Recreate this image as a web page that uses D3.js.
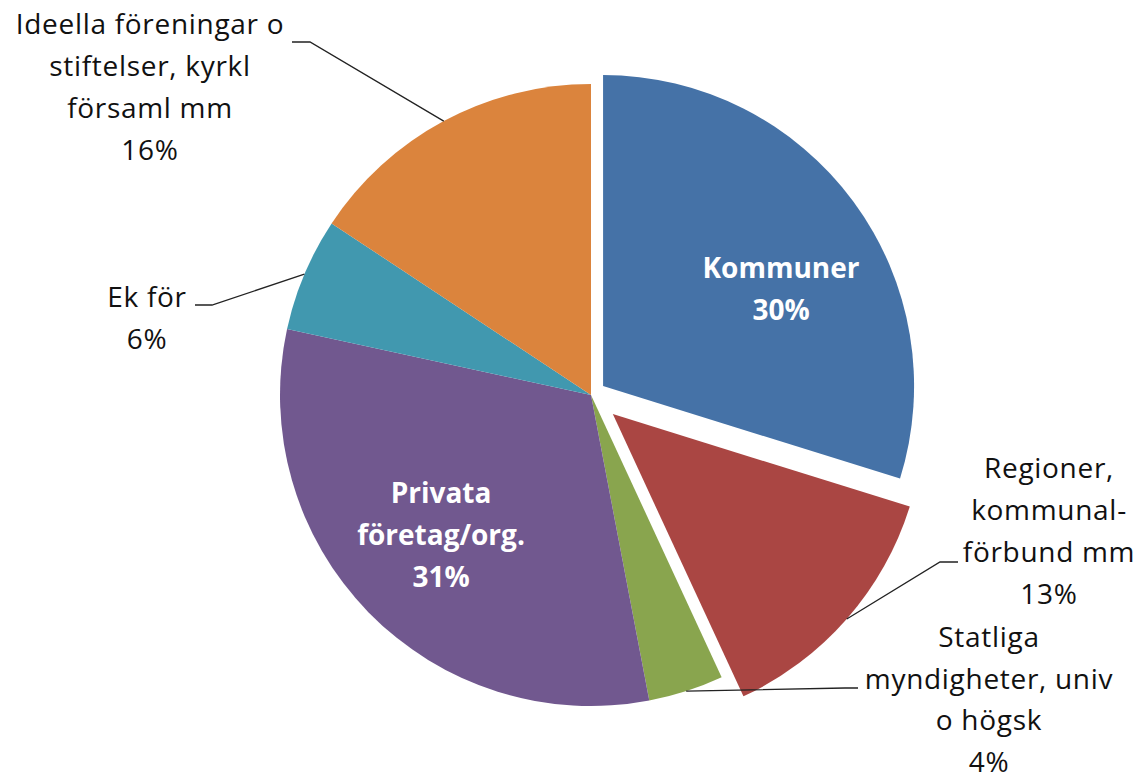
<!DOCTYPE html>
<html>
<head>
<meta charset="utf-8">
<script src="https://cdn.jsdelivr.net/npm/d3@7"></script>
<style>
  body { margin: 0; background: #fff; }
  text { font-family: 'Open Sans', Lato, sans-serif; font-size: 28px; letter-spacing: 0.7px; fill: #111; }
  .inLabel { fill: #fff; font-weight: bold; letter-spacing: 0; }
</style>
</head>
<body>
<div class="pieContainer"></div>
<script>
var W = 1143;
var H = 781;
var cx = 591;
var cy = 395;
var radius = 311;
var lineStep = 42;

// slices clockwise from 12 o'clock
var categories = ['Kommuner', 'Regioner, kommunal-förbund mm', 'Statliga myndigheter, univ o högsk', 'Privata företag/org.', 'Ek för', 'Ideella föreningar o stiftelser, kyrkl församl mm'];
var shares = [29.8, 13.3, 3.9, 31.4, 5.9, 15.7];
var labelLines = [
  ['Kommuner'],
  ['Regioner,', 'kommunal-', 'förbund mm'],
  ['Statliga', 'myndigheter, univ', 'o högsk'],
  ['Privata', 'företag/org.'],
  ['Ek för'],
  ['Ideella föreningar o', 'stiftelser, kyrkl', 'församl mm']
];
var colorPalette = ['#4572a7', '#aa4643', '#89a54e', '#71588f', '#4198af', '#db843d'];
var explode = [15, 29, 0, 0, 0, 0];

// label placement (x = line centre, y = first baseline), leader = [elbow, end]
var labelLayout = [
  { x: 781, y: 278, inside: true },
  { x: 1049, y: 478, leader: [[940, 562], [958, 562]] },
  { x: 989, y: 647, step: 41.5, leader: [[845, 688], [858, 688]] },
  { x: 441, y: 503, inside: true },
  { x: 147, y: 307, leader: [[212, 305], [195, 305]] },
  { x: 150, y: 34, leader: [[310, 42], [292, 42]] }
];

var svg = d3.select('.pieContainer').append('svg')
  .attr('width', W)
  .attr('height', H);

var total = d3.sum(shares);

var pie = d3.pie()
  .value(function (d) { return d; })
  .sort(null);

var arc = d3.arc()
  .innerRadius(0)
  .outerRadius(radius);

var slices = pie(shares);

function offset(d, i, r) {
  var mid = (d.startAngle + d.endAngle) / 2;
  return [Math.sin(mid) * r, -Math.cos(mid) * r];
}

var arcs = svg.selectAll('g.arc')
  .data(slices)
  .enter()
  .append('g')
  .attr('class', 'arc')
  .attr('transform', function (d, i) {
    var o = offset(d, i, explode[i]);
    return 'translate(' + (cx + o[0]) + ',' + (cy + o[1]) + ')';
  });

arcs.append('path')
  .attr('fill', function (d, i) { return colorPalette[i]; })
  .attr('d', arc);

/* ===== LEADER LINES ===== */

svg.selectAll('path.leader')
  .data(slices.filter(function (d, i) { return labelLayout[i].leader; }))
  .enter()
  .append('path')
  .attr('class', 'leader')
  .attr('fill', 'none')
  .attr('stroke', '#222')
  .attr('stroke-width', 1.3)
  .attr('d', function (d) {
    var i = d.index;
    var o = offset(d, i, explode[i] + radius);
    var pts = [[cx + o[0], cy + o[1]]].concat(labelLayout[i].leader);
    return d3.line()(pts);
  });

/* ===== LABELS ===== */

var labels = svg.selectAll('text.label')
  .data(slices)
  .enter()
  .append('text')
  .attr('class', function (d, i) { return labelLayout[i].inside ? 'label inLabel' : 'label'; })
  .attr('text-anchor', 'middle');

labels.each(function (d, i) {
  var lines = labelLines[i].concat([Math.round(d.value / total * 100) + '%']);
  var step = labelLayout[i].step || lineStep;
  var t = d3.select(this);
  lines.forEach(function (s, k) {
    t.append('tspan')
      .attr('x', labelLayout[i].x)
      .attr('y', labelLayout[i].y + k * step)
      .text(s);
  });
});
</script>
</body>
</html>
